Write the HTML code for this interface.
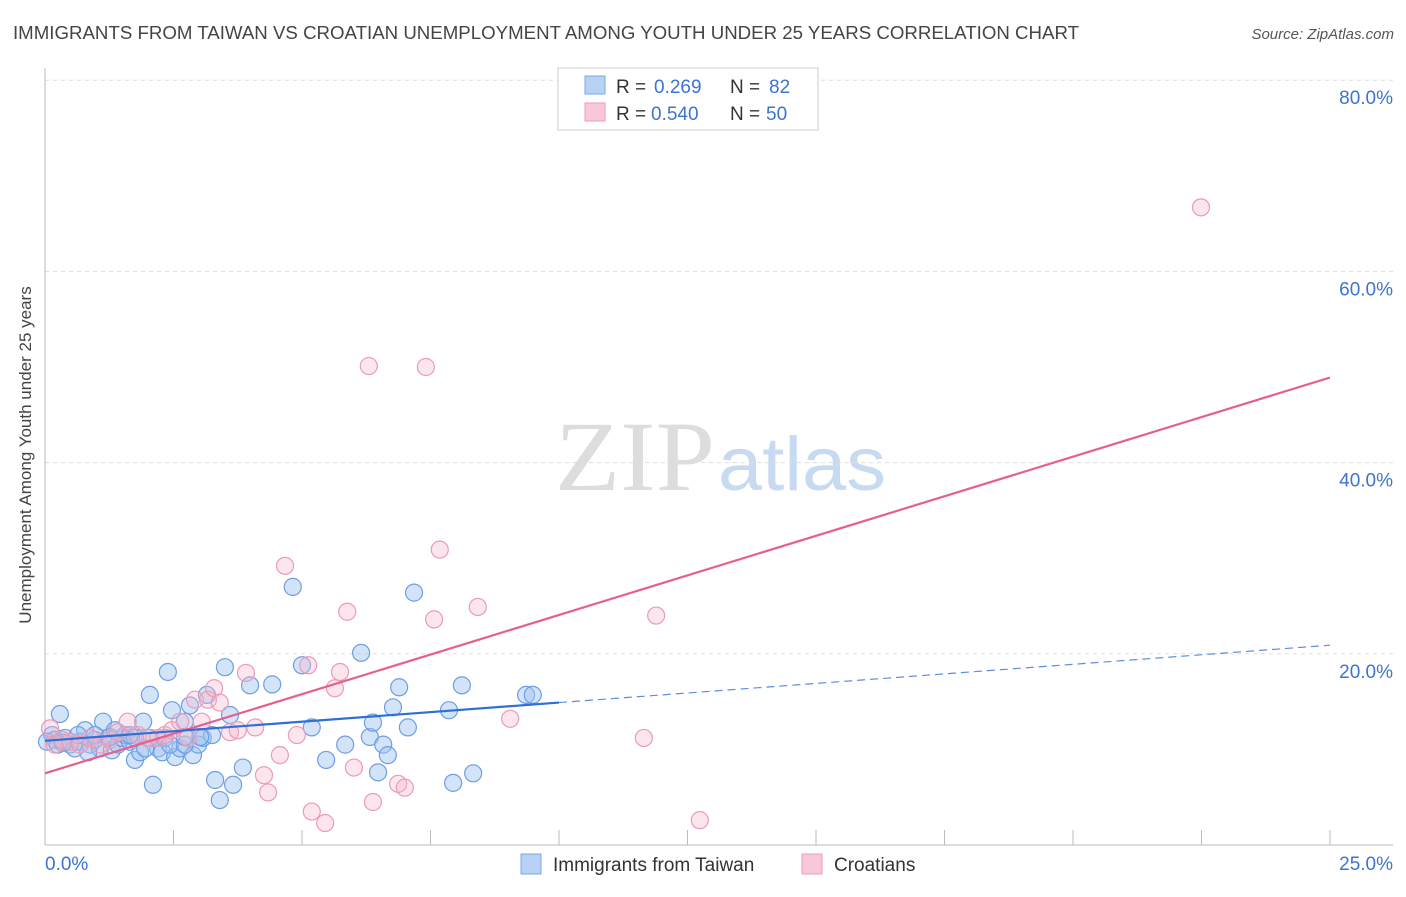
<!DOCTYPE html>
<html><head><meta charset="utf-8"><style>
body{margin:0;background:#fff;font-family:"Liberation Sans",sans-serif;}
</style></head><body>
<svg id="chart" width="1406" height="892" xmlns="http://www.w3.org/2000/svg" style="font-family:'Liberation Sans',sans-serif">
<text x="13" y="39" font-size="18" fill="#444" textLength="1066" lengthAdjust="spacingAndGlyphs">IMMIGRANTS FROM TAIWAN VS CROATIAN UNEMPLOYMENT AMONG YOUTH UNDER 25 YEARS CORRELATION CHART</text>
<text x="1394" y="39" font-size="15" fill="#555" text-anchor="end" font-style="italic">Source: ZipAtlas.com</text>
<text x="31" y="455" font-size="17" fill="#444" text-anchor="middle" transform="rotate(-90 31 455)">Unemployment Among Youth under 25 years</text>
<text x="555" y="490" font-size="100" fill="#ddd" textLength="160" lengthAdjust="spacingAndGlyphs" font-family="Liberation Serif">ZIP</text>
<text x="718" y="490" font-size="76" fill="#c8daf2" textLength="168" lengthAdjust="spacingAndGlyphs">atlas</text>
<g id="grid"></g><g id="axes"></g><g id="pts"></g><g id="lines"></g>
<g>
<rect x="558" y="68" width="260" height="62" fill="#fff" stroke="#ccc"/>
<rect x="585" y="76" width="20" height="18" fill="#b8d2f5" stroke="#7aa7e6"/>
<rect x="585" y="103" width="20" height="18" fill="#f9c8d8" stroke="#ee9ab8"/>
<text x="616" y="93" font-size="19" fill="#333">R =</text>
<text x="654" y="93" font-size="19" fill="#3d74d0">0.269</text>
<text x="730" y="93" font-size="19" fill="#333">N =</text>
<text x="769" y="93" font-size="19" fill="#3d74d0">82</text>
<text x="616" y="120" font-size="19" fill="#333">R =</text>
<text x="651" y="120" font-size="19" fill="#3d74d0">0.540</text>
<text x="730" y="120" font-size="19" fill="#333">N =</text>
<text x="766" y="120" font-size="19" fill="#3d74d0">50</text>
</g>
<g>
<rect x="521" y="854" width="20" height="20" fill="#b8d2f5" stroke="#7aa7e6"/>
<text x="553" y="871" font-size="19" fill="#333">Immigrants from Taiwan</text>
<rect x="802" y="854" width="20" height="20" fill="#f9c8d8" stroke="#ee9ab8"/>
<text x="834" y="871" font-size="19" fill="#333">Croatians</text>
</g>
</svg>
<script>
const blueX=[.29,.14,.19,.39,.49,.58,.68,.78,.88,.97,1.07,1.13,1.23,1.30,1.42,1.50,1.56,1.65,1.75,1.85,1.91,2.04,2.10,2.20,2.28,2.39,2.47,2.53,2.63,2.72,2.82,2.88,2.98,3.07,3.15,3.25,3.31,3.40,3.50,3.60,3.66,3.85,3.99,4.42,4.82,5.00,5.19,5.47,5.84,6.15,6.32,6.38,6.48,6.58,6.67,6.77,6.89,7.06,7.18,7.86,7.94,8.11,8.33,9.36,9.49,.04,.25,.64,1.26,2.04,2.33,2.43,2.72,3.02,1.36,1.75,.97,1.95,1.65,2.72,.84,.35];
const blueY=[13.7,11.5,11.0,11.2,10.5,10.1,10.8,12.0,10.5,11.0,10.1,12.9,11.2,9.9,10.5,11.2,11.5,10.8,8.9,9.7,12.9,15.7,6.3,10.1,9.7,18.1,14.1,9.2,10.1,12.9,14.6,9.4,10.5,11.2,15.7,11.5,6.8,4.7,18.6,13.6,6.3,8.1,16.7,16.8,27.0,18.8,12.3,8.9,10.5,20.1,11.3,12.8,7.6,10.5,9.4,14.4,16.5,12.3,26.4,14.1,6.5,16.7,7.5,15.7,15.7,10.8,10.5,11.5,11.3,11.2,11.2,10.5,10.5,11.3,12.0,11.2,11.5,10.1,11.5,11.3,9.7,10.7];
const pinkX=[.10,.19,.33,.49,.68,.88,1.07,1.26,1.42,1.61,1.81,2.00,2.20,2.33,2.47,2.63,2.78,2.92,3.05,3.17,3.29,3.40,3.60,3.75,3.91,4.09,4.26,4.34,4.57,4.67,4.90,5.12,5.19,5.45,5.64,5.74,5.88,6.01,6.30,6.38,6.87,7.00,7.41,7.57,7.68,8.42,9.05,11.65,11.89,12.74,22.49];
const pinkY=[12.2,10.5,11.0,10.8,10.5,11.2,10.5,11.0,11.8,12.9,11.5,11.2,11.2,11.5,12.0,12.9,11.2,15.2,12.9,15.2,16.4,14.9,11.8,12.0,18.0,12.3,7.3,5.5,9.4,29.2,11.5,18.8,3.5,2.3,16.4,18.1,24.4,8.1,50.1,4.5,6.4,6.0,50.0,23.6,30.9,24.9,13.2,11.2,24.0,2.6,66.7];
const blueTrend=[10.9,20.9];
const pinkTrend=[7.5,48.9];
const yTicks=[20,40,60,80];
const yTickLabels=["20.0%","40.0%","60.0%","80.0%"];
const xTicks=[0,2.5,5,7.5,10,12.5,15,17.5,20,22.5,25];
const NS="http://www.w3.org/2000/svg";
const sx=v=>45+v*51.4, sy=v=>845-v*9.56;
function mk(tag,attrs,parent){const e=document.createElementNS(NS,tag);for(const k in attrs)e.setAttribute(k,attrs[k]);document.getElementById(parent).appendChild(e);return e;}
yTicks.forEach((t,i)=>{
 const g=mk('line',{x1:45,x2:1393,y1:sy(t),y2:sy(t),stroke:'#ddd','stroke-dasharray':'4 4'},'grid');
 
 
 const l=mk('text',{x:1393,y:sy(t)+24,'font-size':19,fill:'#3d74d0','text-anchor':'end'},'axes');
 l.textContent=yTickLabels[i];
 
 
});
const ax=mk('line',{x1:45,x2:1393,y1:845,y2:845,stroke:'#bbb'},'axes');


const ay=mk('line',{x1:45,x2:45,y1:68,y2:845,stroke:'#bbb'},'axes');


xTicks.forEach(t=>{const e=mk('line',{x1:sx(t),x2:sx(t),y1:830,y2:845,stroke:'#bbb'},'axes');
 
 });
const x0=mk('text',{x:45,y:870,'font-size':19,fill:'#3d74d0'},'axes');x0.textContent='0.0%';


const x1=mk('text',{x:1393,y:870,'font-size':19,fill:'#3d74d0','text-anchor':'end'},'axes');x1.textContent='25.0%';


blueX.forEach((x,i)=>{const c=mk('circle',{cx:sx(x),cy:sy(blueY[i]),r:8.5,fill:'rgba(160,196,240,0.45)',stroke:'#6d9ee3','stroke-width':1.2},'pts');
 
 });
pinkX.forEach((x,i)=>{const c=mk('circle',{cx:sx(x),cy:sy(pinkY[i]),r:8.5,fill:'rgba(246,184,204,0.35)',stroke:'#ec9ab6','stroke-width':1.2},'pts');
 
 });
const bt=v=>blueTrend[0]+(blueTrend[1]-blueTrend[0])*v/25;
const pt=v=>pinkTrend[0]+(pinkTrend[1]-pinkTrend[0])*v/25;
const p=mk('line',{x1:sx(0),y1:sy(pt(0)),x2:sx(25),y2:sy(pt(25)),stroke:'#e5608e','stroke-width':2.2},'lines');


const b=mk('line',{x1:sx(0),y1:sy(bt(0)),x2:sx(10),y2:sy(bt(10)),stroke:'#2f6fd6','stroke-width':2.2},'lines');


const bd=mk('line',{x1:sx(10),y1:sy(bt(10)),x2:sx(25),y2:sy(bt(25)),stroke:'#5a8ee0','stroke-width':1.2,'stroke-dasharray':'8 5'},'lines');


</script>
</body></html>
